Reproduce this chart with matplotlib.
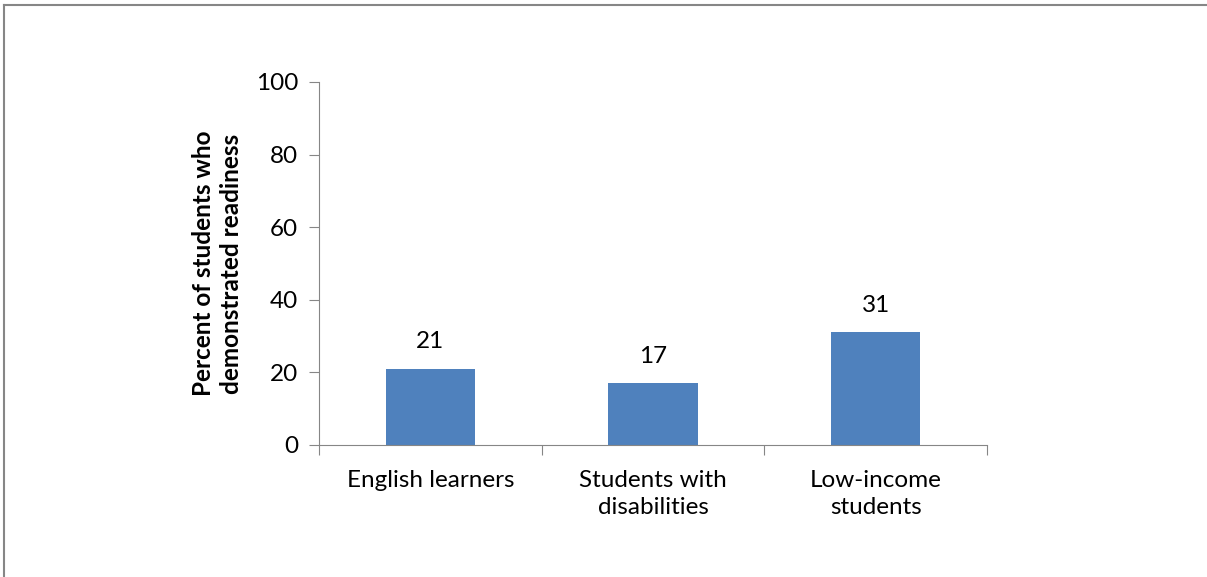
import matplotlib.pyplot as plt
from matplotlib.lines import Line2D

# readiness by student group
groups = ["English learners", "Students with\ndisabilities", "Low-income\nstudents"]
percents = [21, 17, 31]
y_ticks = [0, 20, 40, 60, 80, 100]

plt.rcParams["font.family"] = ["Lato", "DejaVu Sans"]
axis_grey = "#868686"
fs = 17.5

fig = plt.figure(figsize=(12.07, 5.77), dpi=100)
ax = fig.add_axes([0.2643, 0.2288, 0.5534, 0.6291])

positions = list(range(len(groups)))
bars = ax.bar(positions, percents, width=0.4, color="#4F81BD")

for bar, val in zip(bars, percents):
    ax.annotate(str(val), (bar.get_x() + bar.get_width() / 2, bar.get_height()),
                xytext=(0, 12), textcoords="offset points",
                ha="center", va="bottom", fontsize=fs)

ax.set_xlim(-0.5, len(groups) - 0.5)
ax.set_ylim(0, 100)
ax.set_yticks(y_ticks)
ax.tick_params(axis="y", labelsize=fs, length=7, color=axis_grey, pad=8)

# tick marks at category boundaries, labels at the centres
ax.set_xticks([p - 0.5 for p in positions] + [len(groups) - 0.5])
ax.set_xticklabels([])
ax.set_xticks(positions, minor=True)
ax.set_xticklabels(groups, minor=True, fontsize=fs, linespacing=1.35)
ax.tick_params(axis="x", which="major", length=7, color=axis_grey)
ax.tick_params(axis="x", which="minor", length=0, pad=18)

for side in ["top", "right"]:
    ax.spines[side].set_visible(False)
for side in ["left", "bottom"]:
    ax.spines[side].set_color(axis_grey)

ax.set_ylabel("Percent of students who\ndemonstrated readiness",
              fontsize=fs, fontweight="bold", labelpad=9, linespacing=1.3)

# chart frame
fig.add_artist(Line2D([0.003, 1.0], [0.991, 0.991], color=axis_grey, lw=1.5,
                      transform=fig.transFigure))
fig.add_artist(Line2D([0.003, 0.003], [0.0, 0.991], color=axis_grey, lw=1.5,
                      transform=fig.transFigure))

fig.savefig("out.png", dpi=100)
